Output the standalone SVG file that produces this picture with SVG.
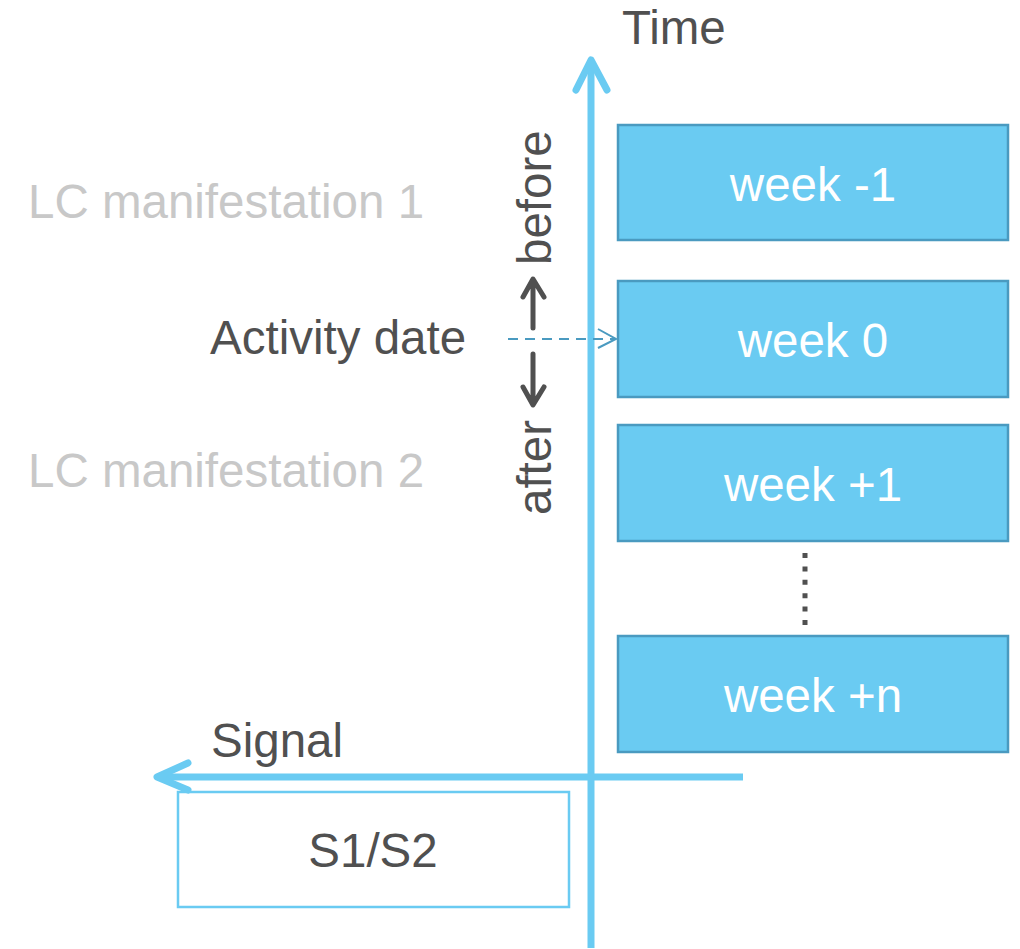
<svg xmlns="http://www.w3.org/2000/svg" width="1020" height="949" viewBox="0 0 1020 949">
<style>
text{font-family:"Liberation Sans",Arial,sans-serif;font-size:47.5px;}
.dark{fill:#505050;}
.gray{fill:#C8C8C8;}
.wk rect{fill:#6ACBF2;stroke:#4A9AC0;stroke-width:2.5;}
.wk text{fill:#FFFFFF;text-anchor:middle;}
.axis{stroke:#6ACBF2;stroke-width:7;fill:none;stroke-linecap:round;stroke-linejoin:round;}
.darr{stroke:#505050;stroke-width:5;fill:none;stroke-linecap:round;stroke-linejoin:round;}
</style>
<rect width="1020" height="949" fill="#FFFFFF"/>
<g id="connectors">
  <path class="axis" d="M591 948 V62" style="stroke-linecap:butt"/>
  <path class="axis" d="M576 90 L591 60 L607 90"/>
  <path class="axis" d="M743 777 H158" style="stroke-linecap:butt"/>
  <path class="axis" d="M188 763 L157 777 L188 790"/>
  <path class="darr" d="M533 328 V281 M523 297 L533 279 L544 297"/>
  <path class="darr" d="M533 354 V404 M523 387 L533 405 L544 387"/>
  <path d="M508 339 H615" stroke="#4A9AC0" stroke-width="2" stroke-dasharray="10 7" fill="none"/>
  <path d="M598 329 L616 339 L598 348" stroke="#4A9AC0" stroke-width="2" fill="none"/>
  <path d="M805 553 V625" stroke="#505050" stroke-width="5" stroke-dasharray="5 8.4" fill="none"/>
</g>
<g id="time-label"><text class="dark" x="622" y="44">Time</text></g>
<g id="signal-label"><text class="dark" x="211" y="757">Signal</text></g>
<g id="lc1"><text class="gray" x="28" y="218">LC manifestation 1</text></g>
<g id="lc2"><text class="gray" x="28" y="487">LC manifestation 2</text></g>
<g id="activity-date"><text class="dark" x="210" y="354">Activity date</text></g>
<g id="before-label"><text class="dark" transform="translate(551,265) rotate(-90)">before</text></g>
<g id="after-label"><text class="dark" transform="translate(551,515) rotate(-90)">after</text></g>
<g id="week-m1" class="wk"><rect x="618" y="125" width="390" height="115"/><text x="813" y="201">week -1</text></g>
<g id="week-0" class="wk"><rect x="618" y="281" width="390" height="116"/><text x="813" y="357">week 0</text></g>
<g id="week-p1" class="wk"><rect x="618" y="425" width="390" height="116"/><text x="813" y="501">week +1</text></g>
<g id="week-pn" class="wk"><rect x="618" y="636" width="390" height="116"/><text x="813" y="712">week +n</text></g>
<g id="s1s2"><rect x="178" y="792" width="391" height="115" fill="none" stroke="#6ACBF2" stroke-width="2.5"/><text class="dark" x="373" y="867" text-anchor="middle">S1/S2</text></g>
</svg>
